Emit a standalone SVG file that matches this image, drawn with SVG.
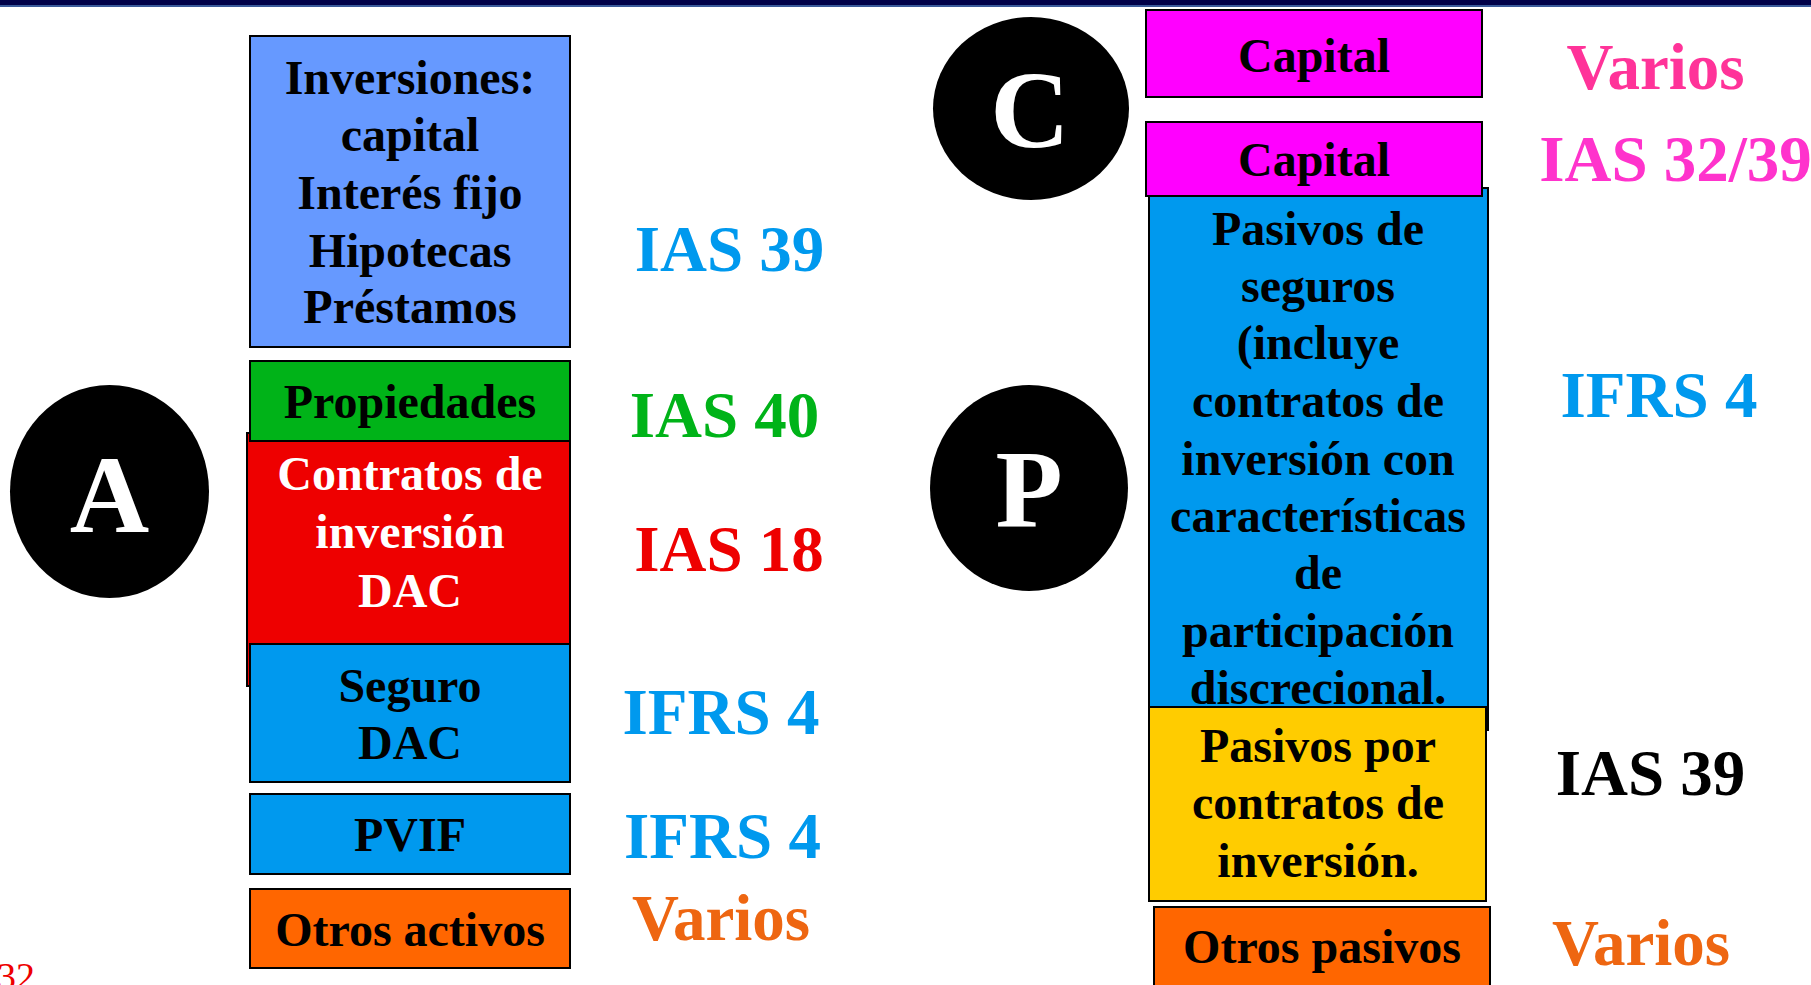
<svg xmlns="http://www.w3.org/2000/svg" width="1811" height="985" viewBox="0 0 1811 985">
<style>
.bx{stroke:#000;stroke-width:2}
.t{font-family:"Liberation Serif","Times New Roman",serif;font-weight:bold;font-size:48px;text-anchor:middle;fill:#000}
.w{fill:#fff}
.lab{font-family:"Liberation Serif","Times New Roman",serif;font-weight:bold;font-size:65px;text-anchor:middle}
.big{font-family:"Liberation Serif","Times New Roman",serif;font-weight:bold;font-size:110px;text-anchor:middle;fill:#fff}
.blue{fill:#0099EE}
</style>
<rect x="0" y="0" width="1811" height="5" fill="#000048"/>
<rect x="0" y="5" width="1811" height="2" fill="#3A5A9A"/>

<g id="circleA"><ellipse cx="109.5" cy="491.5" rx="99.5" ry="106.5" fill="#000"/><text class="big" x="109.5" y="532">A</text></g>
<g id="circleC"><ellipse cx="1031" cy="108.5" rx="98" ry="91.5" fill="#000"/><text class="big" x="1030" y="147">C</text></g>
<g id="circleP"><ellipse cx="1029" cy="488" rx="99" ry="103" fill="#000"/><text class="big" x="1029" y="526">P</text></g>

<g id="inversiones"><rect class="bx" x="250" y="36" width="320" height="311" fill="#6699FF"/>
<text class="t" x="410" y="94">Inversiones:</text><text class="t" x="410" y="151">capital</text><text class="t" x="410" y="209">Interés fijo</text><text class="t" x="410" y="267">Hipotecas</text><text class="t" x="410" y="323">Préstamos</text></g>
<g id="contratos"><rect class="bx" x="247" y="433" width="323" height="253" fill="#EE0000"/>
<text class="t w" x="410" y="490">Contratos de</text><text class="t w" x="410" y="548">inversión</text><text class="t w" x="410" y="607">DAC</text></g>
<g id="propiedades"><rect class="bx" x="250" y="361" width="320" height="80" fill="#00B318"/><text class="t" x="410" y="418">Propiedades</text></g>
<g id="seguro"><rect class="bx" x="250" y="644" width="320" height="138" fill="#0099EE"/><text class="t" x="410" y="702">Seguro</text><text class="t" x="410" y="759">DAC</text></g>
<g id="pvif"><rect class="bx" x="250" y="794" width="320" height="80" fill="#0099EE"/><text class="t" x="410" y="851">PVIF</text></g>
<g id="otrosactivos"><rect class="bx" x="250" y="889" width="320" height="79" fill="#FF6600"/><text class="t" x="410" y="946">Otros activos</text></g>

<g id="labelsA">
<text class="lab blue" x="729.5" y="271">IAS 39</text>
<text class="lab" x="724.5" y="437" fill="#00B318">IAS 40</text>
<text class="lab" x="729" y="571" fill="#EE0000">IAS 18</text>
<text class="lab blue" x="721" y="734">IFRS 4</text>
<text class="lab blue" x="722.5" y="858">IFRS 4</text>
<text class="lab" x="721" y="940" fill="#EE6611">Varios</text>
</g>

<g id="capital1"><rect class="bx" x="1146" y="10" width="336" height="87" fill="#FF00FF"/><text class="t" x="1314" y="72">Capital</text></g>
<g id="pasivosseguros"><rect class="bx" x="1149" y="188" width="339" height="542" fill="#0099EE"/>
<text class="t" x="1318" y="245">Pasivos de</text><text class="t" x="1318" y="302">seguros</text><text class="t" x="1318" y="359">(incluye</text><text class="t" x="1318" y="417">contratos de</text><text class="t" x="1318" y="475">inversión con</text><text class="t" x="1318" y="532">características</text><text class="t" x="1318" y="589">de</text><text class="t" x="1318" y="647">participación</text><text class="t" x="1318" y="704">discrecional.</text></g>
<g id="capital2"><rect class="bx" x="1146" y="122" width="336" height="74" fill="#FF00FF"/><text class="t" x="1314" y="176">Capital</text></g>
<g id="pasivoscontratos"><rect class="bx" x="1149" y="707" width="337" height="194" fill="#FFCC00"/>
<text class="t" x="1318" y="762">Pasivos por</text><text class="t" x="1318" y="819">contratos de</text><text class="t" x="1318" y="877">inversión.</text></g>
<g id="otrospasivos"><rect class="bx" x="1154" y="907" width="336" height="90" fill="#FF6600"/><text class="t" x="1322" y="963">Otros pasivos</text></g>

<g id="labelsP">
<text class="lab" x="1655.5" y="89" fill="#FF3399">Varios</text>
<text class="lab" x="1675.5" y="181" fill="#FF33CC">IAS 32/39</text>
<text class="lab blue" x="1659" y="417">IFRS 4</text>
<text class="lab" x="1650.5" y="795" fill="#000">IAS 39</text>
<text class="lab" x="1641" y="965" fill="#EE6611">Varios</text>
</g>

<g id="connectors"></g>
<text x="-3" y="989" font-family="Liberation Serif,Times New Roman,serif" font-size="38" fill="#EE0000">32</text>
</svg>
